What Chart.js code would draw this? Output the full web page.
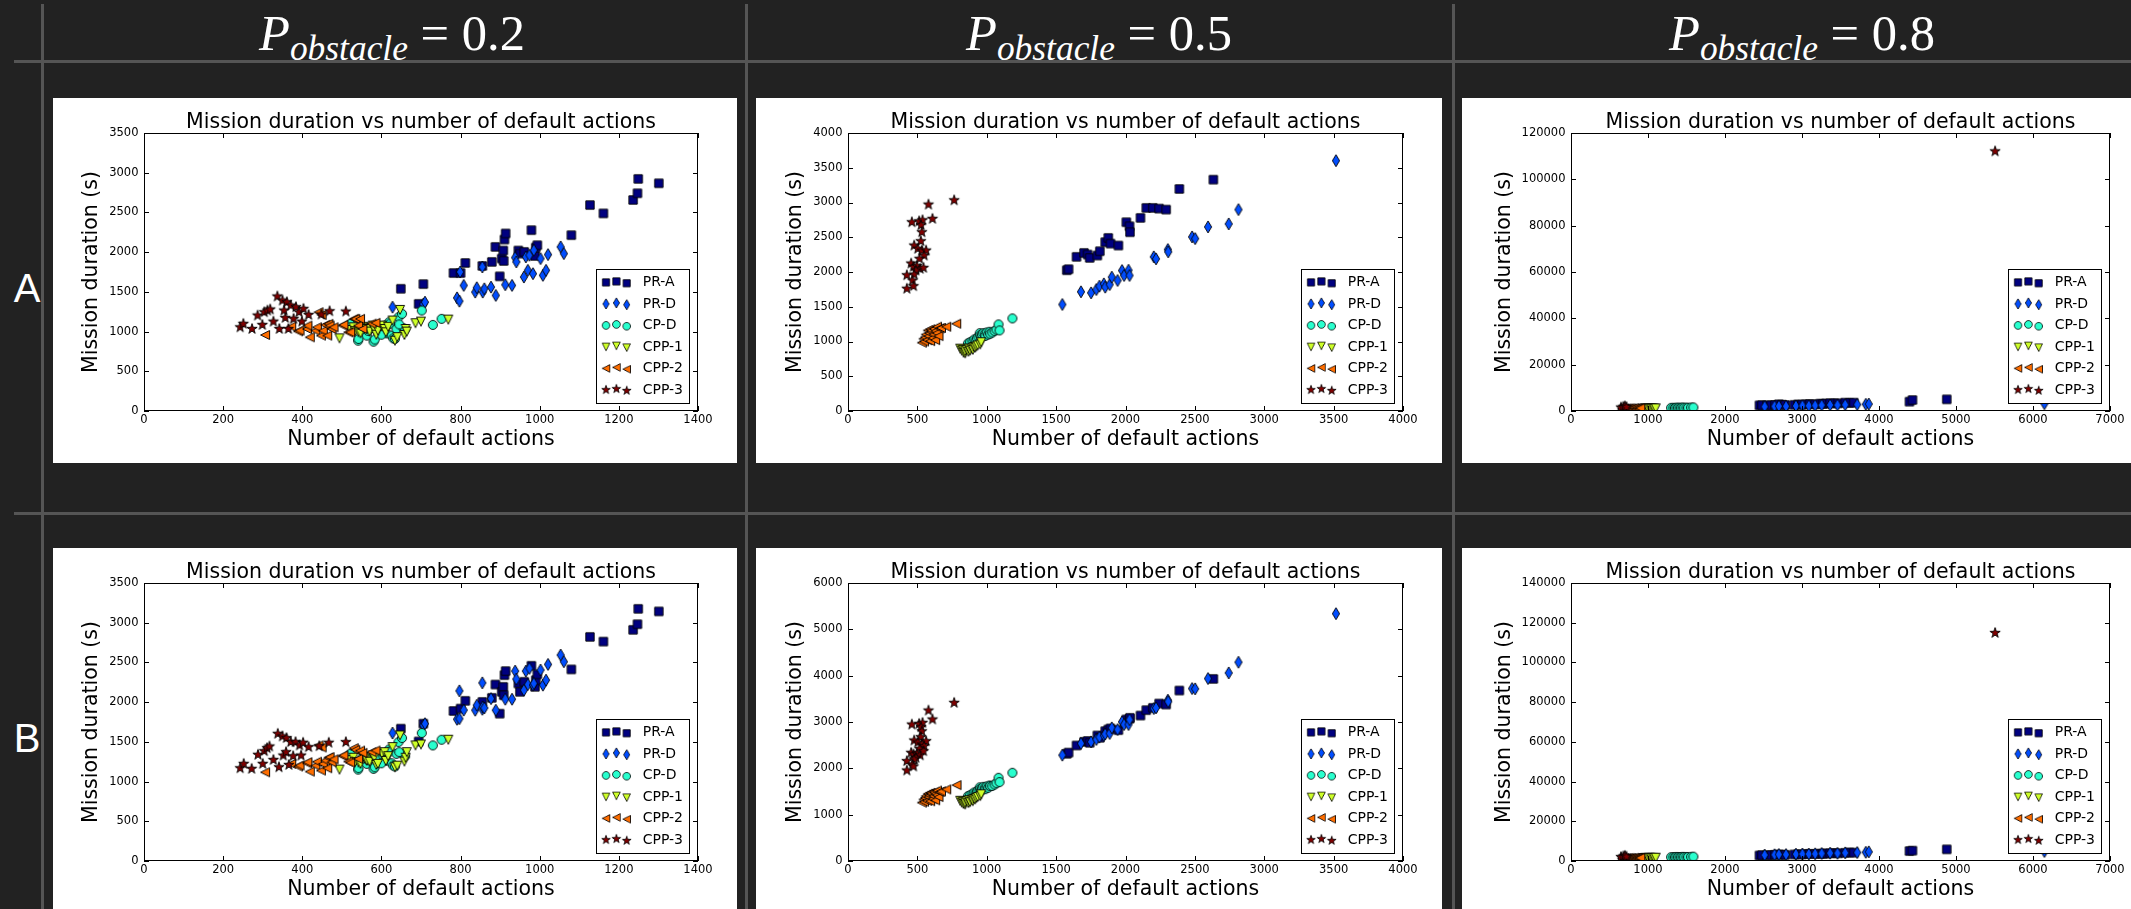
<!DOCTYPE html>
<html><head><meta charset="utf-8">
<script src="https://cdn.jsdelivr.net/npm/chart.js@4.4.0/dist/chart.umd.min.js"></script>
<style>
html,body{margin:0;padding:0;background:#222;}
body{width:2131px;height:909px;overflow:hidden;position:relative;}
.ln{position:absolute;background:#555;}
.panel{position:absolute;background:#fff;overflow:hidden;}
.panel canvas{display:block;}
.hdr{position:absolute;color:#fff;font-family:"Liberation Serif",serif;font-size:50px;line-height:1;white-space:nowrap;}
.hdr .sub{font-size:35px;position:relative;top:10px;font-style:italic;}
.row{position:absolute;color:#fff;font-family:"Liberation Sans",sans-serif;font-size:40px;line-height:1;transform:translate(-50%,-50%);}
</style></head><body>
<script>
// ---------- data ----------
const SERIES = ['PR-A','PR-D','CP-D','CPP-1','CPP-2','CPP-3'];
const COL_HEADERS = ['0.2','0.5','0.8'];
const ROW_LABELS = ['A','B'];
const CHART_TITLE = 'Mission duration vs number of default actions';
const X_TITLE = 'Number of default actions';
const Y_TITLE = 'Mission duration (s)';

// panel A1 (P=0.2)
const A1_PRA = [[649,1539],[694,1349],[706,1598],[782,1737],[800,1737],[812,1864],[855,1826],[879,1877],[888,2066],[899,1695],[904,1919],[908,2020],[911,2159],[914,2235],[909,1889],[946,2020],[950,1982],[961,2003],[979,2277],[988,1952],[990,2058],[994,2087],[1080,2214],[1127,2593],[1161,2488],[1236,2657],[1247,2741],[1249,2922],[1301,2867]];
const A1_PRD = [[628,1307],[706,1345],[710,1370],[791,1425],[797,1383],[799,1750],[808,1581],[837,1497],[841,1552],[855,1813],[856,1497],[860,1539],[877,1560],[889,1455],[913,1590],[930,1581],[938,1931],[941,1877],[960,1687],[965,1940],[970,1771],[974,1961],[983,1729],[985,2024],[1002,1919],[1008,1708],[1016,1771],[1021,1969],[1053,2066],[1061,1982]];
const A1_CPD = [[521,1097],[541,886],[542,907],[563,949],[566,1010],[575,1045],[580,873],[583,900],[588,1075],[592,991],[594,1012],[605,1054],[608,1075],[613,978],[619,1117],[622,1100],[626,949],[630,915],[634,907],[638,1033],[643,1181],[652,1223],[656,1042],[660,1033],[702,1265],[730,1084],[752,1160],[550,1030],[600,960],[645,1090]];
const A1_CPP1 = [[494,915],[520,1020],[529,1054],[533,1005],[542,991],[547,978],[555,1060],[559,1041],[563,1033],[570,1000],[578,1075],[582,1030],[587,960],[591,1012],[601,1075],[608,1033],[611,991],[617,1060],[628,1139],[634,885],[647,1273],[658,957],[661,1033],[664,1000],[686,1105],[700,1126],[769,1151],[640,930]];
const A1_CPP2 = [[306,957],[372,1063],[389,1004],[393,1012],[412,1033],[413,1075],[419,928],[433,1012],[437,1054],[441,1244],[447,949],[449,1210],[452,1012],[458,1084],[463,949],[466,1097],[469,1075],[474,1033],[479,1054],[502,1075],[504,1085],[516,991],[521,991],[530,1160],[534,1160],[541,1075],[546,1160],[552,1033],[575,1100],[585,1110]];
const A1_CPP3 = [[243,1054],[251,1097],[273,1033],[287,1202],[299,1084],[304,1244],[312,1265],[319,1278],[327,1126],[337,1442],[342,1033],[350,1391],[354,1265],[357,1172],[361,1370],[365,1033],[371,1328],[378,1160],[384,1307],[392,1244],[399,1126],[403,1286],[416,1210],[448,1215],[469,1256],[510,1252]];

// panel B1 (P=0.2)
const B1_PRA = [[649,1666],[694,1505],[706,1729],[782,1889],[800,1919],[812,2016],[855,2003],[879,2054],[888,2222],[899,1855],[904,2130],[908,2193],[911,2340],[914,2391],[909,2087],[946,2235],[950,2130],[961,2256],[979,2458],[988,2193],[990,2277],[994,2349],[1080,2412],[1127,2821],[1161,2762],[1236,2910],[1247,2981],[1249,3175],[1301,3142]];
const B1_PRD = [[628,1611],[706,1708],[710,1729],[791,1784],[797,2142],[797,1792],[808,1900],[837,1898],[841,1961],[855,2243],[855,1910],[856,1940],[860,1927],[877,2045],[889,1898],[913,2037],[930,2037],[938,2391],[941,2290],[960,2151],[965,2391],[970,2222],[974,2425],[983,2214],[985,2235],[1002,2404],[1008,2214],[1016,2277],[1021,2475],[1053,2593],[1061,2509]];
const B1_CPD = [[521,1350],[541,1151],[542,1170],[563,1223],[566,1270],[575,1300],[580,1160],[583,1180],[588,1330],[592,1250],[594,1286],[605,1320],[608,1349],[613,1265],[619,1404],[622,1380],[626,1230],[630,1202],[634,1190],[638,1349],[643,1497],[652,1548],[656,1349],[660,1320],[702,1611],[730,1455],[752,1527],[550,1290],[600,1230],[645,1370]];
const B1_CPP1 = [[494,1151],[520,1270],[529,1300],[533,1244],[542,1240],[547,1223],[555,1310],[559,1290],[563,1265],[570,1250],[578,1330],[582,1300],[587,1210],[591,1223],[601,1350],[608,1370],[611,1260],[617,1320],[628,1434],[634,1180],[647,1581],[658,1252],[661,1300],[664,1370],[686,1455],[700,1467],[769,1527],[640,1200]];
const B1_CPP2 = [[306,1117],[372,1223],[389,1190],[393,1202],[412,1230],[413,1244],[419,1126],[433,1202],[437,1250],[441,1455],[447,1139],[449,1430],[452,1223],[458,1265],[463,1168],[466,1300],[469,1307],[474,1244],[479,1280],[502,1320],[504,1330],[516,1252],[521,1240],[530,1421],[534,1400],[541,1286],[546,1390],[552,1362],[575,1370],[585,1391]];
const B1_CPP3 = [[243,1168],[252,1223],[272,1160],[288,1337],[300,1223],[304,1383],[311,1421],[317,1442],[327,1273],[338,1602],[341,1181],[350,1569],[352,1328],[360,1548],[366,1210],[359,1370],[371,1497],[377,1320],[383,1497],[393,1455],[397,1328],[402,1489],[416,1434],[443,1446],[467,1489],[510,1497]];

// panel A2 (P=0.5)
const A2_PRA = [[1577,2026],[1590,2040],[1647,2218],[1701,2275],[1727,2251],[1742,2203],[1797,2237],[1815,2299],[1854,2429],[1876,2491],[1892,2409],[1949,2381],[2006,2716],[2029,2658],[2032,2572],[2108,2778],[2150,2922],[2197,2922],[2242,2912],[2293,2898],[2388,3195],[2633,3329]];
const A2_PRD = [[1545,1533],[1679,1715],[1752,1700],[1790,1748],[1812,1796],[1844,1830],[1854,1782],[1886,1820],[1901,1926],[1943,1878],[1975,2021],[1990,1950],[2022,2026],[2029,1950],[2204,2218],[2220,2189],[2305,2323],[2308,2290],[2480,2505],[2502,2481],[2595,2649],[2744,2692],[2814,2898],[3517,3602]];
const A2_CPD = [[864,973],[880,990],[897,1006],[910,1030],[920,1010],[929,1045],[940,1070],[950,1120],[953,1088],[960,1060],[965,1100],[975,1120],[989,1112],[990,1080],[1000,1130],[1010,1100],[1020,1140],[1025,1112],[1040,1130],[1056,1150],[1070,1170],[1085,1246],[1092,1160],[1185,1332]];
const A2_CPP1 = [[809,897],[820,870],[830,880],[833,839],[845,830],[845,860],[855,880],[868,854],[870,900],[880,870],[890,900],[900,880],[905,920],[917,911],[925,930],[935,945],[953,958],[960,990]];
const A2_CPP2 = [[532,983],[544,1040],[548,1000],[555,1060],[560,1100],[570,1020],[575,1160],[580,1078],[585,1120],[592,1174],[592,1006],[600,1140],[600,1160],[610,1050],[616,1102],[620,1180],[628,1020],[630,1150],[640,1120],[641,1213],[652,1078],[660,1190],[670,1195],[708,1213],[780,1256]];
const A2_CPP3 = [[580,2970],[765,3032],[460,2716],[513,2730],[537,2745],[609,2765],[527,2673],[532,2572],[525,2443],[477,2381],[503,2334],[532,2309],[563,2309],[549,2237],[515,2190],[455,2122],[472,2075],[496,2085],[520,2046],[544,2060],[489,2022],[424,1954],[477,1964],[465,1878],[424,1759],[472,1796]];

// panel B2 (P=0.5)
const B2_PRA = [[1577,2314],[1590,2340],[1647,2493],[1701,2572],[1727,2590],[1742,2551],[1797,2709],[1815,2659],[1854,2802],[1876,2838],[1892,2860],[1949,2824],[2006,3054],[2029,3070],[2032,3090],[2108,3140],[2150,3255],[2197,3305],[2242,3399],[2293,3377],[2388,3679],[2633,3930]];
const B2_PRD = [[1545,2285],[1679,2537],[1752,2572],[1790,2623],[1812,2673],[1844,2709],[1854,2740],[1886,2752],[1901,2874],[1943,2838],[1975,3004],[1990,2946],[2022,2946],[2029,3050],[2204,3291],[2220,3305],[2305,3471],[2308,3440],[2480,3722],[2502,3715],[2595,3938],[2744,4060],[2814,4290],[3517,5339]];
const B2_CPD = [[864,1400],[880,1420],[897,1450],[910,1480],[920,1460],[929,1500],[940,1530],[950,1590],[953,1550],[960,1520],[965,1570],[975,1600],[989,1590],[990,1550],[1000,1610],[1010,1580],[1020,1630],[1025,1617],[1040,1620],[1056,1650],[1070,1680],[1085,1796],[1092,1703],[1185,1904]];
const B2_CPP1 = [[809,1300],[820,1260],[830,1280],[833,1230],[845,1220],[845,1260],[855,1290],[868,1250],[870,1310],[880,1270],[890,1320],[900,1290],[905,1340],[917,1330],[925,1360],[935,1380],[953,1400],[960,1440]];
const B2_CPP2 = [[532,1260],[544,1330],[548,1280],[555,1360],[560,1400],[570,1300],[575,1450],[580,1380],[585,1420],[592,1470],[592,1290],[600,1440],[600,1460],[610,1340],[616,1400],[620,1480],[628,1310],[630,1450],[640,1420],[641,1520],[652,1380],[660,1490],[670,1500],[708,1545],[782,1638]];
const B2_CPP3 = [[580,3248],[765,3413],[460,2946],[513,2960],[537,2982],[609,3054],[527,2889],[532,2800],[525,2673],[477,2601],[503,2560],[532,2515],[563,2587],[549,2480],[515,2422],[455,2335],[472,2300],[496,2314],[520,2280],[544,2371],[489,2228],[424,2156],[477,2192],[465,2084],[424,1954],[472,2040]];

// panel A3 (P=0.8)
const A3_PRA = [[2448,2443],[2480,2500],[2548,2443],[2600,2500],[2650,2600],[2699,2874],[2740,2700],[2782,2600],[2900,2650],[2949,2800],[3000,2750],[3060,2900],[3100,3000],[3171,2874],[3238,3161],[3270,3050],[3311,3200],[3366,3350],[3422,3305],[3470,3300],[3561,3593],[3617,3500],[3672,3600],[4396,4024],[4435,4742],[4880,5030]];
const A3_PRD = [[2515,1900],[2643,2000],[2699,2100],[2793,2050],[2921,2200],[3005,2300],[3088,2250],[3171,2400],[3255,2500],[3366,2600],[3461,2550],[3561,2700],[3717,2800],[3828,2900],[3867,3000],[6148,3161]];
const A3_CPD = [[1300,1350],[1330,1400],[1350,1300],[1370,1450],[1390,1380],[1410,1420],[1430,1350],[1450,1500],[1470,1400],[1500,1450],[1520,1380],[1560,1500],[1590,1550]];
const A3_CPP1 = [[940,1000],[960,1050],[980,1100],[1000,950],[1020,1150],[1040,1050],[1060,1100],[1080,1000],[1100,1150]];
const A3_CPP2 = [[660,1000],[690,1050],[720,1100],[740,1000],[760,1150],[780,1050],[800,1100],[820,1200],[840,1050],[860,1150],[880,1100],[900,1200]];
const A3_CPP3 = [[650,1500],[680,1800],[700,2000],[720,1700],[5508,112086]];

// panel B3 (P=0.8)
const B3_PRA = [[2448,2800],[2480,2950],[2548,2900],[2600,3000],[2650,3100],[2699,3250],[2740,3150],[2782,3100],[2900,3300],[2949,3400],[3000,3350],[3060,3500],[3100,3600],[3171,3550],[3238,3700],[3270,3650],[3311,3800],[3366,3900],[3422,4000],[3470,3900],[3561,4100],[3617,4300],[3672,4200],[4396,5030],[4435,5200],[4880,5868]];
const B3_PRD = [[2515,3000],[2643,3150],[2699,3300],[2793,3250],[2921,3450],[3005,3550],[3088,3500],[3171,3650],[3255,3800],[3366,3950],[3461,3900],[3561,4100],[3717,4250],[3828,4400],[3867,4600],[6148,4800]];
const B3_CPD = [[1300,1950],[1330,2000],[1350,1900],[1370,2050],[1390,1980],[1410,2020],[1430,1950],[1450,2100],[1470,2000],[1500,2050],[1520,1980],[1560,2100],[1590,2200]];
const B3_CPP1 = [[940,1500],[960,1550],[980,1600],[1000,1450],[1020,1650],[1040,1550],[1060,1600],[1080,1500],[1100,1650]];
const B3_CPP2 = [[660,1400],[690,1450],[720,1500],[740,1400],[760,1550],[780,1450],[800,1500],[820,1600],[840,1450],[860,1550],[880,1500],[900,1600]];
const B3_CPP3 = [[650,2000],[680,2300],[700,2600],[720,2200],[5508,114850]];

// axis ranges [min, max, step]
const X_RANGE_02 = [0,1400,200], Y_RANGE_A1 = [0,3500,500], Y_RANGE_B1 = [0,3500,500];
const X_RANGE_05 = [0,4000,500], Y_RANGE_A2 = [0,4000,500], Y_RANGE_B2 = [0,6000,1000];
const X_RANGE_08 = [0,7000,1000], Y_RANGE_A3 = [0,120000,20000], Y_RANGE_B3 = [0,140000,20000];
</script>
<script>
Chart.defaults.font.family = '"DejaVu Sans", sans-serif';

const COLORS = ['#000080','#004dff','#29ffce','#ceff29','#ff6e00','#800000'];
const SHAPES = ['square','thinDiamond','circle','triDown','triLeft','star'];

function markerCanvas(shape, color){
  const c = document.createElement('canvas'); c.width = 18; c.height = 18;
  const g = c.getContext('2d'); g.translate(9,9); g.beginPath();
  switch(shape){
    case 'square': g.rect(-4.2,-4.2,8.4,8.4); break;
    case 'thinDiamond': g.moveTo(0,-6); g.lineTo(3.6,0); g.lineTo(0,6); g.lineTo(-3.6,0); g.closePath(); break;
    case 'circle': g.arc(0,0,4.5,0,Math.PI*2); break;
    case 'triDown': g.moveTo(-4.5,-4.5); g.lineTo(4.5,-4.5); g.lineTo(0,4.5); g.closePath(); break;
    case 'triLeft': g.moveTo(-4.5,0); g.lineTo(4.5,-4.5); g.lineTo(4.5,4.5); g.closePath(); break;
    case 'star':
      for(let k=0;k<10;k++){const r=k%2?2.1:5.4;const a=-Math.PI/2+k*Math.PI/5;const px=r*Math.cos(a),py=r*Math.sin(a);if(k)g.lineTo(px,py);else g.moveTo(px,py);}
      g.closePath(); break;
  }
  g.fillStyle = color; g.fill(); g.lineWidth = 0.9; g.strokeStyle = '#000'; g.stroke();
  return c;
}
const MARKERS = SHAPES.map((s,i)=>markerCanvas(s,COLORS[i]));

const H = 365;
const PLOT_TOP = 35, PLOT_BOTTOM = 313, XAX_H = 50;

const mplPlugin = {
  id:'mpl',
  afterDraw(chart){
    const {ctx} = chart; const {left,top,right,bottom} = chart.chartArea;
    const xs = chart.scales.x, ys = chart.scales.y;
    ctx.save();
    ctx.fillStyle = '#000'; ctx.font = '20.5px "DejaVu Sans"'; ctx.textAlign = 'center'; ctx.textBaseline = 'alphabetic';
    ctx.fillText(CHART_TITLE, (left+right)/2, 30.3);
    ctx.strokeStyle = '#000'; ctx.lineWidth = 1;
    ctx.strokeRect(Math.round(left)+0.5, Math.round(top)+0.5, Math.round(right-left)-1, Math.round(bottom-top)-1);
    ctx.beginPath();
    xs.ticks.forEach(t=>{const px=Math.round(xs.getPixelForValue(t.value))+0.5; ctx.moveTo(px,bottom); ctx.lineTo(px,bottom-5); ctx.moveTo(px,top); ctx.lineTo(px,top+5);});
    ys.ticks.forEach(t=>{const py=Math.round(ys.getPixelForValue(t.value))+0.5; ctx.moveTo(left,py); ctx.lineTo(left+5,py); ctx.moveTo(right,py); ctx.lineTo(right-5,py);});
    ctx.stroke();
    const bw = 94, bh = 135;
    const bx = Math.round(right-8-bw), by = Math.round(bottom-7-bh);
    ctx.fillStyle = '#fff'; ctx.fillRect(bx,by,bw,bh);
    ctx.strokeRect(bx+0.5,by+0.5,bw-1,bh-1);
    const offs = [0,-1,0.8];
    const ms = 18*0.85;
    SERIES.forEach((name,i)=>{
      const cy = by + 13.4 + i*21.5;
      [10,20.4,30.7].forEach((mx,j)=>ctx.drawImage(MARKERS[i], bx+mx-ms/2, cy+offs[j]-ms/2, ms, ms));
      ctx.fillStyle = '#000'; ctx.font = '14px "DejaVu Sans"'; ctx.textAlign = 'left'; ctx.textBaseline = 'middle';
      ctx.fillText(name, bx+46.7, cy);
    });
    ctx.restore();
  }
};

const PANELS = [
  {left:53,  top:98,  w:684, plotL:91,  plotR:645, yTitlePad:26.5, xr:X_RANGE_02, yr:Y_RANGE_A1, data:[A1_PRA,A1_PRD,A1_CPD,A1_CPP1,A1_CPP2,A1_CPP3]},
  {left:756, top:98,  w:686, plotL:92,  plotR:647, yTitlePad:27.8, xr:X_RANGE_05, yr:Y_RANGE_A2, data:[A2_PRA,A2_PRD,A2_CPD,A2_CPP1,A2_CPP2,A2_CPP3]},
  {left:1462,top:98,  w:669, plotL:109, plotR:648, yTitlePad:30.2, xr:X_RANGE_08, yr:Y_RANGE_A3, data:[A3_PRA,A3_PRD,A3_CPD,A3_CPP1,A3_CPP2,A3_CPP3]},
  {left:53,  top:548, w:684, plotL:91,  plotR:645, yTitlePad:26.5, xr:X_RANGE_02, yr:Y_RANGE_B1, data:[B1_PRA,B1_PRD,B1_CPD,B1_CPP1,B1_CPP2,B1_CPP3]},
  {left:756, top:548, w:686, plotL:92,  plotR:647, yTitlePad:27.8, xr:X_RANGE_05, yr:Y_RANGE_B2, data:[B2_PRA,B2_PRD,B2_CPD,B2_CPP1,B2_CPP2,B2_CPP3]},
  {left:1462,top:548, w:669, plotL:109, plotR:648, yTitlePad:30.2, xr:X_RANGE_08, yr:Y_RANGE_B3, data:[B3_PRA,B3_PRD,B3_CPD,B3_CPP1,B3_CPP2,B3_CPP3]}
];

function addDiv(cls, css, html){const d=document.createElement('div');d.className=cls;Object.assign(d.style,css);if(html!==undefined)d.innerHTML=html;document.body.appendChild(d);return d;}

addDiv('ln',{left:'14px',top:'60px',width:'2117px',height:'3px'});
addDiv('ln',{left:'14px',top:'512px',width:'2117px',height:'3px'});
[41,745,1452].forEach(x=>addDiv('ln',{left:x+'px',top:'4px',width:'3px',height:'905px'}));

const HDR_CX = [392,1099,1802];
COL_HEADERS.forEach((v,i)=>{
  const d = addDiv('hdr',{left:HDR_CX[i]+'px',top:'8px'},'<i>P</i><span class="sub">obstacle</span> = '+v);
  const w = d.getBoundingClientRect().width;
  const k = 266/w;
  d.style.transform = 'translateX(-50%) scaleX('+k.toFixed(3)+')';
});
addDiv('row',{left:'27px',top:'288px'},ROW_LABELS[0]);
addDiv('row',{left:'27px',top:'738px'},ROW_LABELS[1]);

PANELS.forEach(p=>{
  const div = addDiv('panel',{left:p.left+'px',top:p.top+'px',width:p.w+'px',height:Math.min(H,909-p.top)+'px'});
  const cv = document.createElement('canvas'); cv.width=p.w; cv.height=H; cv.style.width=p.w+'px'; cv.style.height=H+'px';
  div.appendChild(cv);
  new Chart(cv,{
    type:'scatter',
    data:{datasets:p.data.map((d,i)=>({label:SERIES[i],data:d.map(([x,y])=>({x,y})),pointStyle:MARKERS[i],pointRadius:4,order:-i}))},
    options:{
      responsive:false, animation:false, devicePixelRatio:1, events:[],
      layout:{padding:{left:0,right:p.w-p.plotR,top:PLOT_TOP,bottom:H-PLOT_BOTTOM-XAX_H}},
      plugins:{legend:{display:false},tooltip:{enabled:false},title:{display:false}},
      scales:{
        x:{type:'linear',position:'bottom',min:p.xr[0],max:p.xr[1],
           ticks:{stepSize:p.xr[2],padding:2,color:'#000',font:{size:11.5},maxRotation:0,autoSkip:false,callback:v=>String(v)},
           grid:{display:false,drawTicks:false},border:{display:false},
           title:{display:true,text:X_TITLE,color:'#000',font:{size:20.5,lineHeight:1.2},padding:{top:0,bottom:9.1}},
           afterFit:s=>{s.height=XAX_H;}},
        y:{type:'linear',position:'left',min:p.yr[0],max:p.yr[1],
           ticks:{stepSize:p.yr[2],padding:5.5,color:'#000',font:{size:11.5},autoSkip:false,callback:v=>String(v)},
           grid:{display:false,drawTicks:false},border:{display:false},
           title:{display:true,text:Y_TITLE,color:'#000',font:{size:20.5,lineHeight:1.2},padding:{top:p.yTitlePad,bottom:0}},
           afterFit:s=>{s.width=p.plotL;}}
      }
    },
    plugins:[mplPlugin]
  });
});
</script>
</body></html>
